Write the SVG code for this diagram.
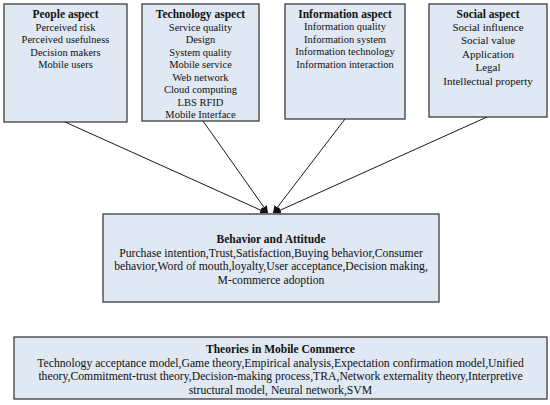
<svg xmlns="http://www.w3.org/2000/svg" width="550" height="405" viewBox="0 0 550 405">
<defs>
<marker id="ah" viewBox="0 0 10 10" refX="10" refY="5" markerWidth="7" markerHeight="7" markerUnits="userSpaceOnUse" orient="auto">
<path d="M0,0 L10,5 L0,10 z" fill="#111"/>
</marker>
</defs>
<style>
.box{fill:#dfe8f3;stroke:#3c3c3c;stroke-width:1.3}
text{font-family:"Liberation Serif","Times New Roman",serif;fill:#111;text-anchor:middle}
.t{font-weight:bold;font-size:11.5px}
.b{font-size:10.5px}
.s{font-size:11px}
.w{font-size:11.7px}
.c{stroke:#1a1a1a;stroke-width:1;fill:none;marker-end:url(#ah)}
</style>
<rect width="550" height="405" fill="#fff"/>
<g id="people">
<rect class="box" x="4" y="4" width="123" height="118"/>
<text class="t" x="65.5" y="18">People aspect</text>
<text class="b" x="65.5" y="30.5">Perceived risk</text>
<text class="b" x="65.5" y="43">Perceived usefulness</text>
<text class="b" x="65.5" y="55.5">Decision makers</text>
<text class="b" x="65.5" y="68">Mobile users</text>
</g>
<g id="technology">
<rect class="box" x="142" y="4" width="117" height="117"/>
<text class="t" x="200.5" y="18">Technology aspect</text>
<text class="b" x="200.5" y="30.5">Service quality</text>
<text class="b" x="200.5" y="43">Design</text>
<text class="b" x="200.5" y="55.5">System quality</text>
<text class="b" x="200.5" y="68">Mobile service</text>
<text class="b" x="200.5" y="80.5">Web network</text>
<text class="b" x="200.5" y="93">Cloud computing</text>
<text class="b" x="200.5" y="105.5">LBS RFID</text>
<text class="b" x="200.5" y="118">Mobile Interface</text>
</g>
<g id="information">
<rect class="box" x="285" y="4" width="120" height="115"/>
<text class="t" x="345" y="18">Information aspect</text>
<text class="b" x="345" y="30">Information quality</text>
<text class="b" x="345" y="42.5">Information system</text>
<text class="b" x="345" y="55">Information technology</text>
<text class="b" x="345" y="67.5">Information interaction</text>
</g>
<g id="social">
<rect class="box" x="429" y="4" width="118" height="113"/>
<text class="t" x="488" y="18">Social aspect</text>
<text class="s" x="488" y="30.5">Social influence</text>
<text class="s" x="488" y="44">Social value</text>
<text class="s" x="488" y="57.5">Application</text>
<text class="s" x="488" y="71">Legal</text>
<text class="s" x="488" y="84.5">Intellectual property</text>
</g>
<g id="behavior">
<rect class="box" x="103" y="214" width="336" height="88"/>
<text class="t" x="271" y="243">Behavior and Attitude</text>
<text class="w" x="271" y="256.5">Purchase intention,Trust,Satisfaction,Buying behavior,Consumer</text>
<text class="w" x="271" y="270">behavior,Word of mouth,loyalty,User acceptance,Decision making,</text>
<text class="w" x="271" y="283.5">M-commerce adoption</text>
</g>
<g id="theories">
<rect class="box" x="14" y="337" width="533" height="62"/>
<text class="t" x="280.5" y="353">Theories in Mobile Commerce</text>
<text class="w" x="280.5" y="366.5">Technology acceptance model,Game theory,Empirical analysis,Expectation confirmation model,Unified</text>
<text class="w" x="280.5" y="380">theory,Commitment-trust theory,Decision-making process,TRA,Network externality theory,Interpretive</text>
<text class="w" x="280.5" y="393.5">structural model, Neural network,SVM</text>
</g>
<g id="connectors">
<line class="c" x1="65" y1="122" x2="267" y2="213"/>
<line class="c" x1="203" y1="121" x2="268" y2="213"/>
<line class="c" x1="345" y1="119" x2="273" y2="213"/>
<line class="c" x1="487" y1="117" x2="274" y2="213"/>
</g>
</svg>
